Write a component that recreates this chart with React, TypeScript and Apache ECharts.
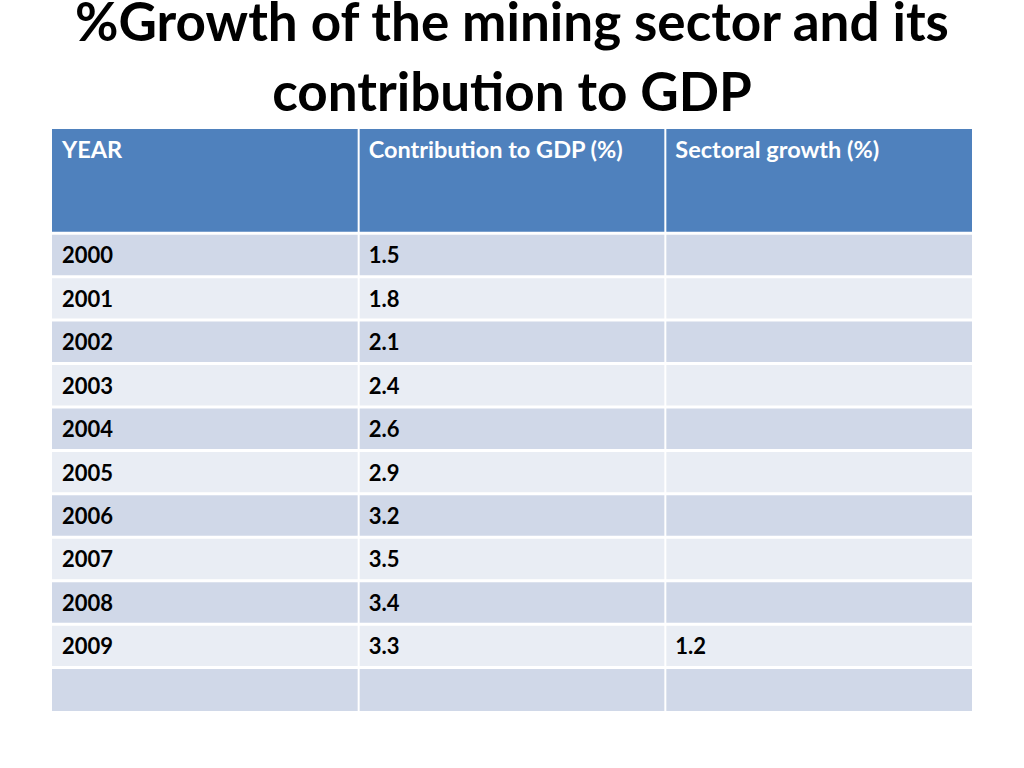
import React, { useEffect, useRef } from "react";
import * as echarts from "echarts";

const titleLines = ["%Growth of the mining sector and its", "contribution to GDP"];
const headers = ["YEAR", "Contribution to GDP (%)", "Sectoral growth (%)"];
const years = ["2000", "2001", "2002", "2003", "2004", "2005", "2006", "2007", "2008", "2009", ""];
const contribution = [1.5, 1.8, 2.1, 2.4, 2.6, 2.9, 3.2, 3.5, 3.4, 3.3, null];
const sectoralGrowth = [null, null, null, null, null, null, null, null, null, 1.2, null];

const HEADER_SPAN = 2.4;
const FONT = "Lato, 'Open Sans', sans-serif";

type Cell = { col: number; y0: number; y1: number; text: string; header: boolean; row: number };

function buildCells(): Cell[] {
  const cells: Cell[] = [];
  headers.forEach((h, c) => cells.push({ col: c, y0: 0, y1: HEADER_SPAN, text: h, header: true, row: -1 }));
  const fmt = (v: number | null) => (v === null ? "" : v.toFixed(1));
  years.forEach((yr, r) => {
    const vals = [yr, fmt(contribution[r]), fmt(sectoralGrowth[r])];
    vals.forEach((t, c) =>
      cells.push({ col: c, y0: HEADER_SPAN + r, y1: HEADER_SPAN + r + 1, text: t, header: false, row: r })
    );
  });
  return cells;
}

export default function App() {
  const ref = useRef<HTMLDivElement>(null);
  useEffect(() => {
    if (!ref.current) return;
    const chart = echarts.init(ref.current, undefined, { renderer: "svg" });
    const cells = buildCells();
    const totalSpan = HEADER_SPAN + years.length;
    chart.setOption({
      animation: false,
      backgroundColor: "#ffffff",
      graphic: titleLines.map((t, i) => ({
        type: "text",
        x: 512,
        y: i === 0 ? 20 : 90,
        style: {
          text: t,
          fontSize: 53,
          lineHeight: 40,
          fontWeight: "bold",
          fontFamily: FONT,
          fill: "#000000",
          align: "center",
          verticalAlign: "middle",
        },
      })),
      grid: { left: 52, right: 52, top: 129, bottom: 57 },
      xAxis: { type: "value", min: 0, max: headers.length, show: false },
      yAxis: { type: "value", min: 0, max: totalSpan, inverse: true, show: false },
      series: [
        {
          type: "custom",
          data: cells.map((c) => [c.col, c.y0, c.y1]),
          renderItem: (params: any, api: any) => {
            const cell = cells[params.dataIndex];
            const p0 = api.coord([cell.col, cell.y0]);
            const p1 = api.coord([cell.col + 1, cell.y1]);
            const x = p0[0] + (cell.col === 0 ? 0 : 1);
            const w = p1[0] - p0[0] - (cell.col === 0 ? 1 : 2) + (cell.col === 2 ? 1 : 0);
            const y = p0[1] + (cell.header ? 0 : 1.5);
            const h = p1[1] - p0[1] - (cell.header ? 1.5 : 3) + (cell.row === years.length - 1 ? 1.5 : 0);
            const fill = cell.header ? "#4F81BD" : cell.row % 2 === 0 ? "#D0D8E8" : "#E9EDF4";
            return {
              type: "group",
              children: [
                { type: "rect", shape: { x, y, width: w, height: h }, style: { fill } },
                {
                  type: "text",
                  x: p0[0] + 10,
                  y: cell.header ? p0[1] + 8 : (p0[1] + p1[1]) / 2,
                  style: {
                    text: cell.text,
                    fontSize: cell.header ? 23.5 : 22,
                    fontWeight: "bold",
                    fontFamily: FONT,
                    fill: cell.header ? "#ffffff" : "#000000",
                    verticalAlign: cell.header ? "top" : "middle",
                    align: "left",
                  },
                },
              ],
            };
          },
        },
      ],
    });
    return () => chart.dispose();
  }, []);
  return (
    <div
      ref={ref}
      style={{ position: "fixed", left: 0, top: 0, width: 1024, height: 768 }}
    />
  );
}
